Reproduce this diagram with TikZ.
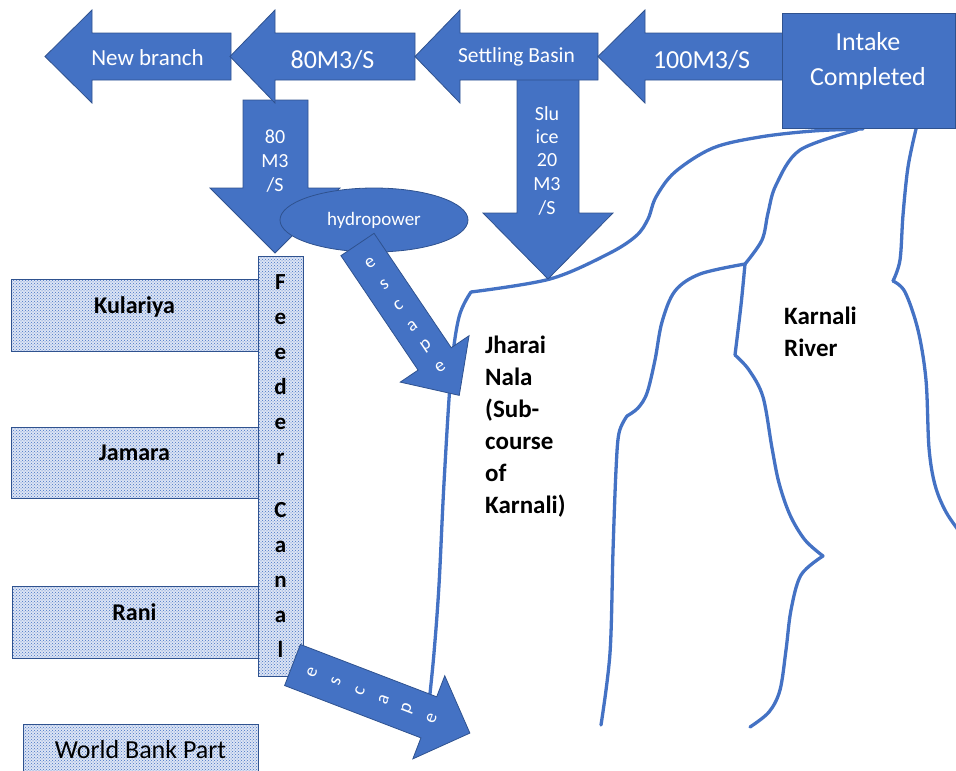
\documentclass[tikz,border=0pt]{standalone}
\usepackage{fontspec}
\setmainfont{Carlito}
\usetikzlibrary{patterns,shapes.geometric}
\definecolor{obl}{HTML}{4472C4}
\definecolor{odk}{HTML}{2F528F}
\definecolor{dotbg}{HTML}{DCE4F4}
\newcommand{\fsNB}{\fontsize{23}{27}\selectfont}
\newcommand{\fsSB}{\fontsize{21.5}{26}\selectfont}
\newcommand{\fsBig}{\fontsize{26}{31}\selectfont}
\newcommand{\fsSm}{\fontsize{20}{24}\selectfont}
\newcommand{\fsHy}{\fontsize{19}{23}\selectfont}
\newcommand{\fsEs}{\fontsize{19}{22}\selectfont}
\newcommand{\fsLb}{\fontsize{25}{30}\selectfont}
\newcommand{\fsBx}{\fontsize{24}{29}\selectfont}
\newcommand{\fsFd}{\fontsize{23}{28}\selectfont}
\newcommand{\fsWB}{\fontsize{26}{31}\selectfont}
\begin{document}
\begin{tikzpicture}[x=1pt,y=-1pt,
  blk/.style={fill=obl, draw=odk, line width=0.8pt, line join=miter},
  river/.style={draw=obl, line width=3.3pt, line cap=round, line join=round},
  dotbox/.style={draw=odk, line width=0.8pt, preaction={fill=dotbg}, pattern=crosshatch dots, pattern color=obl, inner sep=0pt},
  wt/.style={text=white, inner sep=0pt, anchor=base},
  bt/.style={text=black, inner sep=0pt, anchor=base, font=\bfseries\fsLb},
  esc/.style={text=white, inner sep=0pt, font=\fsEs, transform shape},
]
\useasboundingbox (0,0) rectangle (956,771);

% ---------- rivers ----------
\draw[river] plot[smooth, tension=0.55] coordinates {(863,129) (813,131) (760,137) (713,148) (675,172) (656,197) (648,219) (636,236) (608,254) (550,279) (471,292)};
\draw[river] plot[smooth, tension=0.55] coordinates {(471,292) (459,317) (451,373) (444,483) (439,585) (434,653) (429,703)};
\draw[river] plot[smooth, tension=0.55] coordinates {(857,130) (800,150) (776,185) (768,213) (762,240) (745,264)};
\draw[river] plot[smooth, tension=0.55] coordinates {(745,264) (700,274) (675,291) (662,322) (655,360) (647,393) (638,408) (627,416)};
\draw[river] plot[smooth, tension=0.55] coordinates {(627,416) (619,433) (616,470) (613,551) (610,653) (601,725)};
\draw[river] plot[smooth, tension=0.55] coordinates {(745,264) (741,305) (735,355)};
\draw[river] plot[smooth, tension=0.55] coordinates {(735,355) (749,370) (763,397) (772,448) (779,483) (790,515) (805,540) (823,556)};
\draw[river] plot[smooth, tension=0.55] coordinates {(823,556) (801,575) (791,610) (786,650) (780,690) (769,712) (750,727)};
\draw[river] plot[smooth, tension=0.55] coordinates {(916,129) (908,167) (903,215) (900,260) (893,281)};
\draw[river] plot[smooth, tension=0.55] coordinates {(893,281) (905,292) (918,330) (926,380) (929,448) (935,485) (946,512) (962,535)};

% ---------- downward arrows ----------
\draw[blk] (243,100) -- (308,100) -- (308,188) -- (340,188) -- (275,253) -- (210,188) -- (243,188) -- cycle;
\draw[blk] (517,78) -- (579,78) -- (579,213) -- (613,213) -- (548,279) -- (483,213) -- (517,213) -- cycle;

% ---------- top arrows ----------
\draw[blk] (45,56.5) -- (92,10) -- (92,33) -- (231,33) -- (231,80) -- (92,80) -- (92,103) -- cycle;
\draw[blk] (230,56.5) -- (275,10) -- (275,33) -- (415,33) -- (415,80) -- (275,80) -- (275,103) -- cycle;
\draw[blk] (415,56.5) -- (460,10) -- (460,33) -- (598,33) -- (598,80) -- (460,80) -- (460,103) -- cycle;
\draw[blk] (598,56.5) -- (645,10) -- (645,33) -- (790,33) -- (790,80) -- (645,80) -- (645,103) -- cycle;
\node[blk, rectangle, minimum width=173pt, minimum height=115pt, inner sep=0pt] (intake) at (868.5,70.5) {};

% ---------- hydropower ----------
\node[blk, ellipse, minimum width=188pt, minimum height=64pt, inner sep=0pt, text=white, font=\fsHy] (hydro) at (374,220) {hydropower};

% ---------- escape 1 ----------
\begin{scope}[shift={(357.5,244.5)}, rotate=34]
  \draw[blk] (-20,0) -- (20,0) -- (20,138) -- (41.5,138) -- (0,182) -- (-41.5,138) -- (-20,138) -- cycle;
  \foreach \l [count=\i] in {e,s,c,a,p,e}
    \node[esc] (escA\i) at (0,{23+25*(\i-1)}) {\l};
\end{scope}

% ---------- canal boxes ----------
\node[dotbox, minimum width=247pt, minimum height=72pt] (kul) at (134.5,315) {};
\node[dotbox, minimum width=247pt, minimum height=71pt] (jam) at (134.5,462.5) {};
\node[dotbox, minimum width=246pt, minimum height=72pt] (rani) at (135,622) {};
\node[dotbox, minimum width=235pt, minimum height=56pt] (wb) at (140.5,752) {};
\node[dotbox, minimum width=45pt, minimum height=420pt] (feeder) at (280.5,466) {};

\node[bt, font=\bfseries\fsBx] (tkul) at (134.5,313) {Kulariya};
\node[bt, font=\bfseries\fsBx] (tjam) at (134.5,460) {Jamara};
\node[bt, font=\bfseries\fsBx] (trani) at (134.5,620) {Rani};
\node[text=black, inner sep=0pt, anchor=base, font=\fsWB] (twb) at (140.5,758) {World Bank Part};

\foreach \l/\yy [count=\i] in {F/289,e/324,e/359,d/394,e/429,r/464,C/517,a/552,n/587,a/622,l/657}
  \node[bt, font=\bfseries\fsFd] (fd\i) at (280.5,\yy) {\l};

% ---------- escape 2 ----------
\begin{scope}[shift={(292.5,665)}, rotate=69]
  \draw[blk] (-22,0) -- (22,0) -- (22,146) -- (44.5,146) -- (0,190) -- (-44.5,146) -- (-22,146) -- cycle;
  \foreach \l [count=\i] in {e,s,c,a,p,e}
    \node[esc] (escB\i) at (0,{21+25.6*(\i-1)}) {\l};
\end{scope}

% ---------- labels on arrows ----------
\node[wt, font=\fsNB] (tnb) at (147.5,65) {New branch};
\node[wt, font=\fsBig] (t80) at (332.5,68) {80M3/S};
\node[wt, font=\fsSB] (tsb) at (516.5,62) {Settling Basin};
\node[wt, font=\fsBig] (t100) at (701.5,68) {100M3/S};
\node[wt, font=\fsBig] (ti1) at (868,50) {Intake};
\node[wt, font=\fsBig] (ti2) at (868,85) {Completed};

\node[wt, font=\fsSm] (td1) at (275,143) {80};
\node[wt, font=\fsSm] (td2) at (275,167) {M3};
\node[wt, font=\fsSm] (td3) at (275,191) {/S};

\node[wt, font=\fsSm] (ts1) at (547,120) {Slu};
\node[wt, font=\fsSm] (ts2) at (547,143) {ice};
\node[wt, font=\fsSm] (ts3) at (547,166) {20};
\node[wt, font=\fsSm] (ts4) at (547,190) {M3};
\node[wt, font=\fsSm] (ts5) at (547,214) {/S};

% ---------- river labels ----------
\node[bt, anchor=base west] (tj1) at (485,353) {Jharai};
\node[bt, anchor=base west] (tj2) at (485,385) {Nala};
\node[bt, anchor=base west] (tj3) at (485,417) {(Sub-};
\node[bt, anchor=base west] (tj4) at (485,449) {course};
\node[bt, anchor=base west] (tj5) at (485,481) {of};
\node[bt, anchor=base west] (tj6) at (485,513) {Karnali)};
\node[bt, anchor=base west] (tk1) at (784,324) {Karnali};
\node[bt, anchor=base west] (tk2) at (784,356) {River};
\end{tikzpicture}
\end{document}
